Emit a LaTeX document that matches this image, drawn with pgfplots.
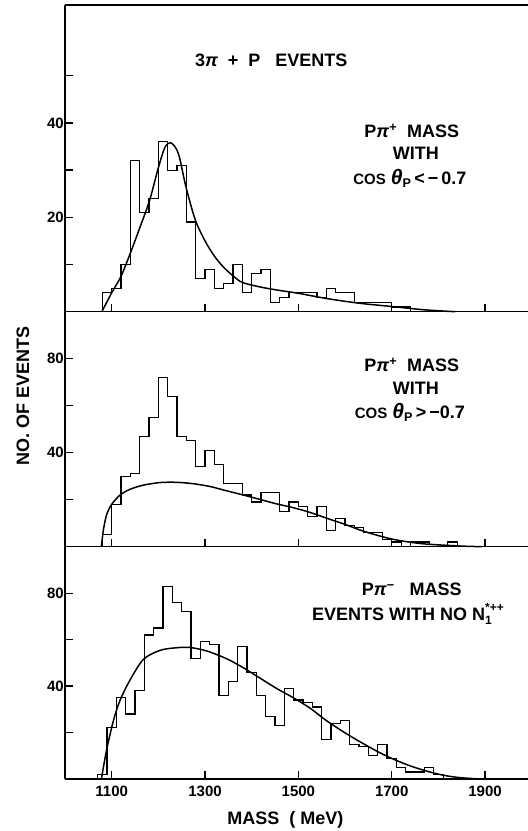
\documentclass[border=0pt]{standalone}
\usepackage{fontspec}
\setmainfont{Liberation Sans}
\usepackage{pgfplots}
\pgfplotsset{compat=1.18}
\newcommand{\lab}{\fontsize{18}{20}\selectfont\bfseries}
\newcommand{\smallcap}{\fontsize{15}{16}\selectfont\bfseries}
\newcommand{\scr}[1]{\mbox{\fontsize{12}{12}\selectfont\bfseries #1}}
\pgfplotsset{
 panel/.style={
  scale only axis, width=463pt, xmin=1000, xmax=1992, ymin=0,
  axis x line=box, axis y line=left,
  axis line style={-, line width=1.5pt},
  tick align=inside, major tick length=8pt,
  every tick/.style={line width=1.3pt, black},
  xtick={1100,1300,1500,1700,1900}, xtick pos=bottom,
  ticklabel style={font=\fontsize{15}{15}\selectfont\bfseries},
  yticklabel style={inner sep=1pt},
  anchor=south west, clip=false,
 },
 hist/.style={const plot, black, line width=1.1pt, mark=none},
 fit/.style={smooth, black, line width=1.5pt, mark=none},
}
\begin{document}
\begin{tikzpicture}
\useasboundingbox (-65pt,-52pt) rectangle (463pt,779pt);
% ---------- panel 3 (bottom)
\begin{axis}[panel, at={(0pt,0pt)}, height=232.3pt, ymax=100,
  ytick={20,40,60,80}, yticklabels={,40,,80},
  xticklabels={1100,1300,1500,1700,1900},
  xticklabel style={yshift=-3pt},
  xlabel={MASS\ \ ( MeV)},
  xlabel style={font=\lab, at={(axis description cs:0.476,0)}, anchor=center, yshift=-41pt}]
\addplot[hist] coordinates {(1070,0)(1070,2)(1090,22)(1110,35)(1130,28)(1150,38)(1170,62)(1190,65)(1210,83)(1230,76)(1250,72)(1270,52)(1290,59)(1310,58)(1330,36)(1350,42)(1370,57)(1390,46)(1410,36)(1430,27)(1450,23)(1470,39)(1490,34)(1510,33)(1530,31)(1550,17)(1570,24)(1590,25)(1610,15)(1630,14)(1650,10)(1670,15)(1690,9)(1710,5)(1730,3)(1750,3)(1770,5)(1790,2)(1810,0)};
\addplot[fit] coordinates {(1078,0)(1089,12.4)(1104,25.3)(1118,33.9)(1139,42.5)(1168,51.5)(1204,55.4)(1239,56.5)(1268,56.6)(1304,55.1)(1346,51.8)(1382,47.9)(1418,43.4)(1454,38.9)(1489,35.0)(1525,30.5)(1561,25.0)(1611,18.5)(1668,12.0)(1704,8.5)(1739,5.7)(1775,3.4)(1811,1.6)(1846,0.6)(1889,0)};
\node[font=\lab] at (axis cs:1743,81.5) {P{\itshape π}\textsuperscript{−}\ \ \ MASS};
\node[font=\lab] at (axis cs:1737,71.2) {EVENTS WITH NO N\rlap{\raisebox{9pt}{\scr{*++}}}\raisebox{-4pt}{\scr{1}}\phantom{\scr{++}}};
\end{axis}
% ---------- panel 2 (middle)
\begin{axis}[panel, at={(0pt,232.3pt)}, height=235pt, ymax=100,
  ytick={20,40,60,80}, yticklabels={,40,,80},
  xticklabels={},
  ylabel={NO.\ OF EVENTS},
  ylabel style={font=\lab, at={(axis description cs:0,0.64)}, anchor=center, yshift=42pt}]
\addplot[hist] coordinates {(1080,0)(1080,5)(1100,18)(1120,30)(1140,31)(1160,47)(1180,55)(1200,72)(1220,64)(1240,47)(1260,45)(1280,34)(1300,41)(1320,35)(1340,27)(1360,27)(1380,22)(1400,19)(1420,23)(1440,23)(1460,15)(1480,19)(1500,17)(1520,13)(1540,17)(1560,7)(1580,12)(1600,9)(1620,8)(1640,6)(1660,6)(1680,3)(1700,2)(1720,0)(1740,2)(1760,2)(1780,1)(1800,0)(1820,2)(1840,0)};
\addplot[fit] coordinates {(1078,0)(1082,6.8)(1089,13.5)(1100,18)(1118,22)(1139,24.4)(1168,26.2)(1204,27.3)(1239,27.4)(1275,26.8)(1311,25.6)(1346,23.8)(1382,22)(1418,20.1)(1454,18.2)(1489,16.6)(1525,14.6)(1561,12.1)(1600,9.5)(1632,7.1)(1668,4.9)(1704,3.1)(1740,1.9)(1775,1.1)(1846,0.3)(1893,0)};
\node[font=\lab] at (axis cs:1743,77.3) {P{\itshape π}\textsuperscript{+}\ \ MASS};
\node[font=\lab] at (axis cs:1752,67.5) {WITH};
\node[font=\lab] at (axis cs:1739,57.3) {{\smallcap COS} {\fontsize{21}{21}\selectfont\itshape θ}\textsubscript{P}\,{>}\,−0.7};
\end{axis}
% ---------- panel 1 (top)
\begin{axis}[panel, at={(0pt,467.3pt)}, height=306.7pt, ymax=65,
  ytick={10,20,30,40,50}, yticklabels={,20,,40,},
  xticklabels={}]
\addplot[hist] coordinates {(1080,0)(1080,4)(1100,5)(1120,10)(1140,32)(1160,21)(1180,24)(1200,36)(1220,30)(1240,31)(1260,19)(1280,7)(1300,9)(1320,5)(1340,6)(1360,10)(1380,4)(1400,8)(1420,9)(1440,2)(1460,3)(1480,4)(1500,4)(1520,4)(1540,3)(1560,5)(1580,4)(1600,4)(1620,2)(1640,2)(1660,2)(1680,2)(1700,1)(1720,1)(1740,0)};
\addplot[fit] coordinates {(1079,0)(1100,4)(1120,7.5)(1140,12.4)(1161,18)(1181,23.5)(1200,30.5)(1214,34.8)(1227,35.8)(1243,33.5)(1259,26.5)(1279,19.5)(1300,15)(1320,11.8)(1339,9.5)(1360,7.6)(1380,6.2)(1420,5.2)(1460,4.5)(1500,3.9)(1560,2.8)(1630,1.8)(1700,1.1)(1770,0.4)(1836,0)};
\node[font=\lab] at (axis cs:1442,53.3) {3{\itshape π}\ \ +\ \ P\ \ \ EVENTS};
\node[font=\lab] at (axis cs:1743,38.3) {P{\itshape π}\textsuperscript{+}\ \ MASS};
\node[font=\lab] at (axis cs:1752,33.6) {WITH};
\node[font=\lab] at (axis cs:1739,28.3) {{\smallcap COS} {\fontsize{21}{21}\selectfont\itshape θ}\textsubscript{P}\,{<}\,−\,0.7};
\end{axis}
\end{tikzpicture}
\end{document}
